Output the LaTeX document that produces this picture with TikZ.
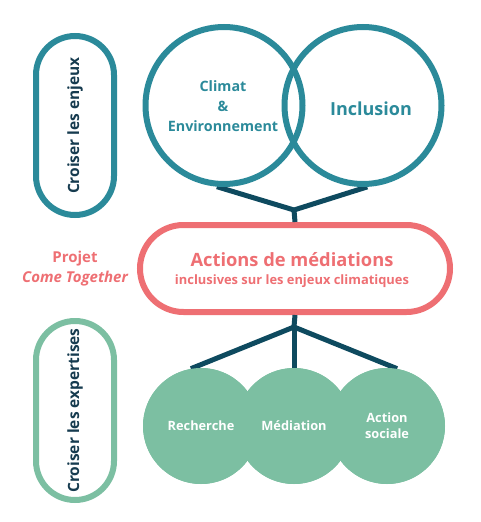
\documentclass[tikz,border=0pt]{standalone}
\usepackage{fontspec}
\setmainfont{Open Sans}
\usetikzlibrary{shapes.misc}
\definecolor{teal}{HTML}{2B8A9A}
\definecolor{navy}{HTML}{0E4A5F}
\definecolor{darktext}{HTML}{163B4F}
\definecolor{pink}{HTML}{EE6F73}
\definecolor{mint}{HTML}{7CBFA2}
\tikzset{
  ring/.style={circle, draw=teal, line width=6pt, minimum size=157pt, inner sep=0pt, text=teal, font=\bfseries, align=center},
  pill/.style={rounded rectangle, line width=6pt, inner sep=0pt, align=center},
  ball/.style={circle, fill=mint, minimum size=116pt, inner sep=0pt, text=white, font=\bfseries\fontsize{12.8}{16}\selectfont, align=center},
  link/.style={draw=navy, line width=5pt},
  sidetext/.style={text=darktext, font=\bfseries\fontsize{15.5}{18}\selectfont}
}
\begin{document}
\begin{tikzpicture}[x=1pt,y=-1pt]
\useasboundingbox (0,0) rectangle (481,522);
% top pill
\node[pill, draw=teal, rotate=90, minimum width=179pt, minimum height=78pt, sidetext] (p1) at (75,125.5) {Croiser les enjeux};
% bottom pill
\node[pill, draw=mint, rotate=90, minimum width=179pt, minimum height=78pt, sidetext] (p2) at (75,410.5) {Croiser les expertises};
% junctions
\coordinate (jt) at (294,210);
\coordinate (jb) at (294,327);
% connectors (drawn first)
\node[pill, draw=pink, minimum width=310pt, minimum height=87pt, text=pink] (act) at (295,268.5) {};
\node[ring, draw=none, text=teal] (c1) at (224,105.5) {};
\node[ring, draw=none] (c2) at (363,105.5) {};
\path[link] (c1.-95) -- (jt) -- (c2.-87);
\path[link] (jt) -- (act.north);
\node[ball] (g1) at (201,426) {Recherche};
\node[ball] (g2) at (294,426) {Médiation};
\node[ball] (g3) at (387,426) {Action\\sociale};
\path[link] (act.south) -- (jb);
\path[link] (jb) -- (g1.100);
\path[link] (jb) -- (g2.north);
\path[link] (jb) -- (g3.80);
% redraw balls on top
\node[ball] at (201,426) {Recherche};
\node[ball] at (294,426) {Médiation};
\node[ball] at (387,426) {Action\\sociale};
% rings
\node[ring] at (224,105.5) {};
\node[ring] at (363,105.5) {};
\node[text=teal, font=\bfseries\fontsize{14.3}{20}\selectfont, align=center] at (223,106) {Climat\\\&\\Environnement};
\node[text=teal, font=\bfseries\fontsize{18}{20}\selectfont] at (371,109) {Inclusion};
% action text
\node[text=pink, font=\bfseries\fontsize{18.3}{22}\selectfont] at (292,260) {Actions de médiations};
\node[text=pink, font=\bfseries\fontsize{12.9}{15}\selectfont] at (292,281) {inclusives sur les enjeux climatiques};
\node[text=pink, font=\bfseries\fontsize{15}{20}\selectfont, align=center] at (75,269) {Projet\\\itshape Come Together};
\end{tikzpicture}
\end{document}
